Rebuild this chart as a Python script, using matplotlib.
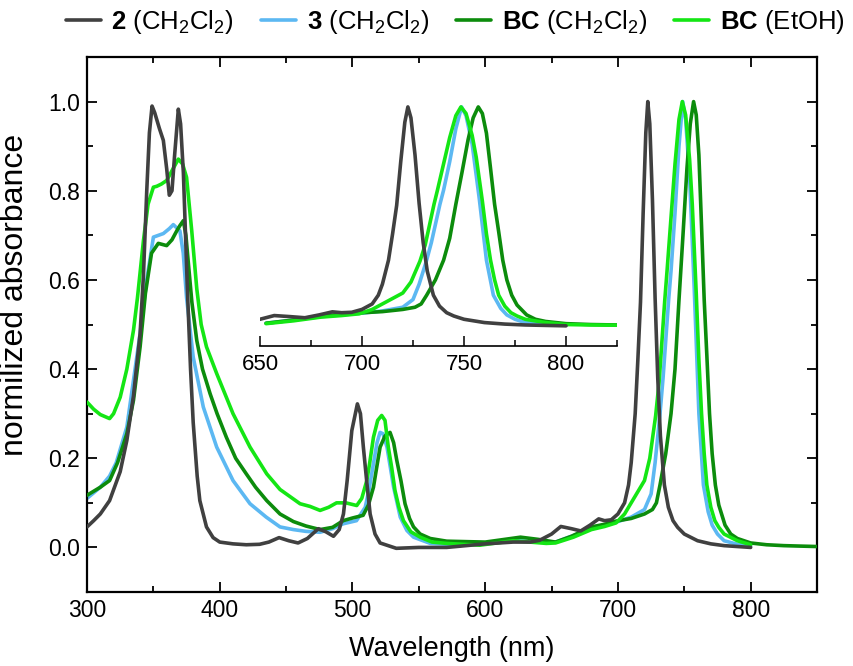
import numpy as np
import matplotlib
matplotlib.use("Agg")
import matplotlib.pyplot as plt
from matplotlib.ticker import MultipleLocator

plt.rcParams['font.family'] = ['Liberation Sans', 'DejaVu Sans']
plt.rcParams['mathtext.fontset'] = 'custom'
plt.rcParams['mathtext.rm'] = 'Liberation Sans'
plt.rcParams['mathtext.bf'] = 'Liberation Sans:bold'

# compound 2 in CH2Cl2
wl_2 = [300, 305, 310, 317, 325, 330, 335, 340, 342.5, 345, 347, 349, 351, 354.5, 357.5,
        360, 362, 364, 366, 368.8, 370.5, 372.6, 375.6, 378, 380, 383, 385, 390, 395, 400,
        410, 420, 430, 437, 444.7, 452, 459, 466, 474.3, 480, 485.7, 490, 493.2, 496,
        499.5, 503.7, 506, 508.2, 511, 513.3, 517, 520.8, 533, 550, 571, 600, 621, 634,
        641, 650, 657, 665, 672, 679, 685.5, 690, 695, 700, 705, 708, 710, 713, 715, 717,
        719, 721, 722.5, 724, 726, 728, 730, 732, 735, 738, 741.5, 745, 750, 760, 770,
        780, 790, 800]
ab_2 = [0.046, 0.06, 0.075, 0.105, 0.17, 0.24, 0.34, 0.48, 0.61, 0.8, 0.93, 0.99, 0.975,
        0.94, 0.913, 0.85, 0.79, 0.8, 0.88, 0.983, 0.95, 0.84, 0.58, 0.4, 0.28, 0.16, 0.105,
        0.046, 0.022, 0.012, 0.008, 0.006, 0.007, 0.012, 0.022, 0.015, 0.01, 0.02, 0.042,
        0.035, 0.025, 0.04, 0.075, 0.15, 0.262, 0.322, 0.3, 0.225, 0.14, 0.075, 0.03,
        0.01, -0.002, 0.0, 0.0, 0.008, 0.012, 0.012, 0.016, 0.03, 0.047, 0.042, 0.037,
        0.05, 0.064, 0.06, 0.062, 0.075, 0.1, 0.14, 0.19, 0.3, 0.42, 0.55, 0.75, 0.93,
        1.0, 0.95, 0.78, 0.56, 0.38, 0.25, 0.14, 0.09, 0.06, 0.045, 0.03, 0.015, 0.008,
        0.004, 0.002, 0.0]

# compound 3 in CH2Cl2
wl_3 = [300, 310, 317, 322, 330, 335, 340, 345, 350, 357.5, 362, 365, 370, 372.5, 375,
        380, 387.6, 397.7, 410, 422.8, 435, 445.4, 455.5, 465, 475.6, 485, 493, 503,
        509.6, 512.5, 515.8, 518.5, 520.8, 523, 526, 531, 536, 541, 546, 558.6, 580,
        600, 620, 640, 653, 665, 680, 690, 700, 710, 720, 725, 728, 731.7, 734, 738.2,
        740, 743, 746, 748.8, 751, 754, 757.5, 761, 764.4, 768, 771, 775, 780, 790, 800]
ab_3 = [0.11, 0.135, 0.16, 0.19, 0.27, 0.375, 0.48, 0.6, 0.696, 0.704, 0.715, 0.724,
        0.71, 0.66, 0.56, 0.427, 0.315, 0.225, 0.15, 0.098, 0.068, 0.046, 0.04, 0.036,
        0.034, 0.042, 0.053, 0.06, 0.09, 0.13, 0.188, 0.235, 0.258, 0.255, 0.225, 0.135,
        0.068, 0.038, 0.023, 0.009, 0.006, 0.01, 0.016, 0.012, 0.012, 0.025, 0.042,
        0.05, 0.058, 0.068, 0.085, 0.12, 0.19, 0.3, 0.38, 0.555, 0.62, 0.75, 0.9, 1.0,
        0.96, 0.83, 0.58, 0.3, 0.14, 0.08, 0.05, 0.03, 0.015, 0.007, 0.003]

# BC in CH2Cl2
wl_bc = [300, 310, 317, 323, 330, 335, 340, 344, 348.6, 353.7, 360, 364, 367.6, 370,
         372.6, 374.5, 376.4, 379, 382.7, 387, 392.7, 398, 405, 412, 420, 427, 435.4,
         445.4, 455.5, 465, 475.6, 485, 493, 500, 508, 512, 515.8, 518, 520.8, 524.5,
         528.3, 531, 533.4, 536.5, 539.6, 543, 546, 551, 558.6, 571, 600, 626.6, 640,
         653, 665, 680, 690, 698.6, 710, 720, 726, 729, 731.7, 736, 740, 743, 746, 749,
         752, 754.5, 757, 759, 761, 763, 765, 767, 769, 771, 773.4, 776, 780.7, 785,
         790, 800, 812, 825, 837, 850]
ab_bc = [0.117, 0.135, 0.15, 0.19, 0.255, 0.33, 0.45, 0.57, 0.66, 0.682, 0.677, 0.69,
         0.71, 0.722, 0.733, 0.7, 0.636, 0.55, 0.464, 0.4, 0.345, 0.3, 0.247, 0.2, 0.165,
         0.135, 0.105, 0.075, 0.058, 0.048, 0.04, 0.045, 0.06, 0.066, 0.072, 0.095, 0.135,
         0.175, 0.225, 0.25, 0.258, 0.235, 0.195, 0.15, 0.098, 0.065, 0.046, 0.03, 0.02,
         0.014, 0.012, 0.023, 0.018, 0.012, 0.025, 0.046, 0.052, 0.059, 0.065, 0.075,
         0.085, 0.1, 0.14, 0.21, 0.3, 0.4, 0.555, 0.7, 0.85, 0.95, 1.0, 0.97, 0.88, 0.72,
         0.555, 0.43, 0.3, 0.21, 0.14, 0.095, 0.05, 0.03, 0.02, 0.01, 0.006, 0.004,
         0.003, 0.002]

# BC in EtOH
wl_et = [300, 305, 310, 317, 320, 325, 330, 335, 338, 342.5, 346, 350, 352.5, 356, 360,
         364, 368.8, 372, 375, 378.9, 382.7, 386, 390, 397.7, 410, 422.8, 435.4, 445.4,
         460.5, 468, 475.6, 482, 488, 495, 503.2, 507, 510.8, 513, 515.8, 519, 522, 524.5,
         527, 529.5, 532, 535, 538.4, 544, 551, 560, 571, 596, 621, 646, 653, 666.5, 680,
         690, 698.6, 705, 710, 715, 720, 724, 728.4, 731, 735.3, 737, 740, 743, 746,
         748.5, 751, 754, 756, 759, 761, 763, 765, 767, 770, 773, 776, 780, 790, 800,
         812, 825]
ab_et = [0.326, 0.31, 0.298, 0.289, 0.3, 0.337, 0.4, 0.487, 0.56, 0.688, 0.77, 0.808,
         0.81, 0.815, 0.823, 0.845, 0.871, 0.86, 0.83, 0.71, 0.58, 0.5, 0.45, 0.39,
         0.3, 0.225, 0.165, 0.13, 0.098, 0.092, 0.083, 0.09, 0.1, 0.1, 0.094, 0.11, 0.15,
         0.19, 0.247, 0.285, 0.296, 0.285, 0.225, 0.18, 0.128, 0.09, 0.06, 0.035, 0.023,
         0.012, 0.009, 0.005, 0.015, 0.009, 0.01, 0.023, 0.04, 0.047, 0.055, 0.075, 0.1,
         0.125, 0.15, 0.2, 0.295, 0.37, 0.555, 0.62, 0.74, 0.86, 0.96, 1.0, 0.97, 0.87,
         0.77, 0.57, 0.42, 0.3, 0.21, 0.14, 0.09, 0.06, 0.045, 0.03, 0.015, 0.006,
         0.004, 0.003]

labels = [r'$\bf{2}$ (CH$_2$Cl$_2$)', r'$\bf{3}$ (CH$_2$Cl$_2$)',
          r'$\bf{BC}$ (CH$_2$Cl$_2$)', r'$\bf{BC}$ (EtOH)']
colors = ['#404040', '#5cb8f2', '#0c8c0c', '#14e614']
main_end = [800, 800, 850, 800]
series = [(wl_2, ab_2), (wl_3, ab_3), (wl_bc, ab_bc), (wl_et, ab_et)]
zorders = [5, 2, 3, 4]

fig = plt.figure(figsize=(8.54, 6.66), dpi=100)
ax = fig.add_axes([0.1019, 0.1111, 0.8548, 0.8033])

for (x, y), lab, c, end, z in zip(series, labels, colors, main_end, zorders):
    x = np.array(x); y = np.array(y)
    m = x <= end
    ax.plot(x[m], y[m], color=c, lw=2.6, label=lab, zorder=z,
            solid_joinstyle='round', solid_capstyle='round')

ax.set_xlim(300, 850)
ax.set_ylim(-0.1, 1.1)
ax.xaxis.set_major_locator(MultipleLocator(100))
ax.xaxis.set_minor_locator(MultipleLocator(50))
ax.yaxis.set_major_locator(MultipleLocator(0.2))
ax.yaxis.set_minor_locator(MultipleLocator(0.1))
ax.yaxis.set_major_formatter(matplotlib.ticker.FormatStrFormatter('%.1f'))
ax.tick_params(which='both', direction='in', top=True, right=True, width=1.3,
               labelsize=16.5, pad=5)
ax.tick_params(which='major', length=7)
ax.tick_params(which='minor', length=4)
for s in ax.spines.values():
    s.set_linewidth(1.6)
ax.set_xlabel('Wavelength (nm)', fontsize=19.5, labelpad=10)
ax.set_ylabel('normilized absorbance', fontsize=23)
ax.yaxis.set_label_coords(-0.078, 0.555)

fig.legend(loc='upper center', bbox_to_anchor=(0.533, 1.022), ncol=4, frameon=False,
           fontsize=18.5, handlelength=1.35, handletextpad=0.42, columnspacing=1.05)

# inset: zoom on the Q band
axi = fig.add_axes([0.3044, 0.4805, 0.4181, 0.3695])
axi.patch.set_alpha(0)
for (x, y), c, z in zip(series, colors, zorders):
    x = np.array(x); y = np.array(y)
    m = x >= 650
    axi.plot(x[m], y[m], color=c, lw=2.6, zorder=z,
             solid_joinstyle='round', solid_capstyle='round')
axi.set_xlim(650, 825)
axi.set_ylim(-0.092, 1.032)
for k in ['left', 'right', 'top']:
    axi.spines[k].set_visible(False)
axi.spines['bottom'].set_linewidth(1.2)
axi.set_yticks([])
axi.xaxis.set_major_locator(MultipleLocator(50))
axi.xaxis.set_minor_locator(MultipleLocator(25))
axi.tick_params(which='both', direction='in', width=1.1, labelsize=16, pad=6)
axi.tick_params(which='major', length=7)
axi.tick_params(which='minor', length=4)

fig.savefig('out.png', dpi=100)
